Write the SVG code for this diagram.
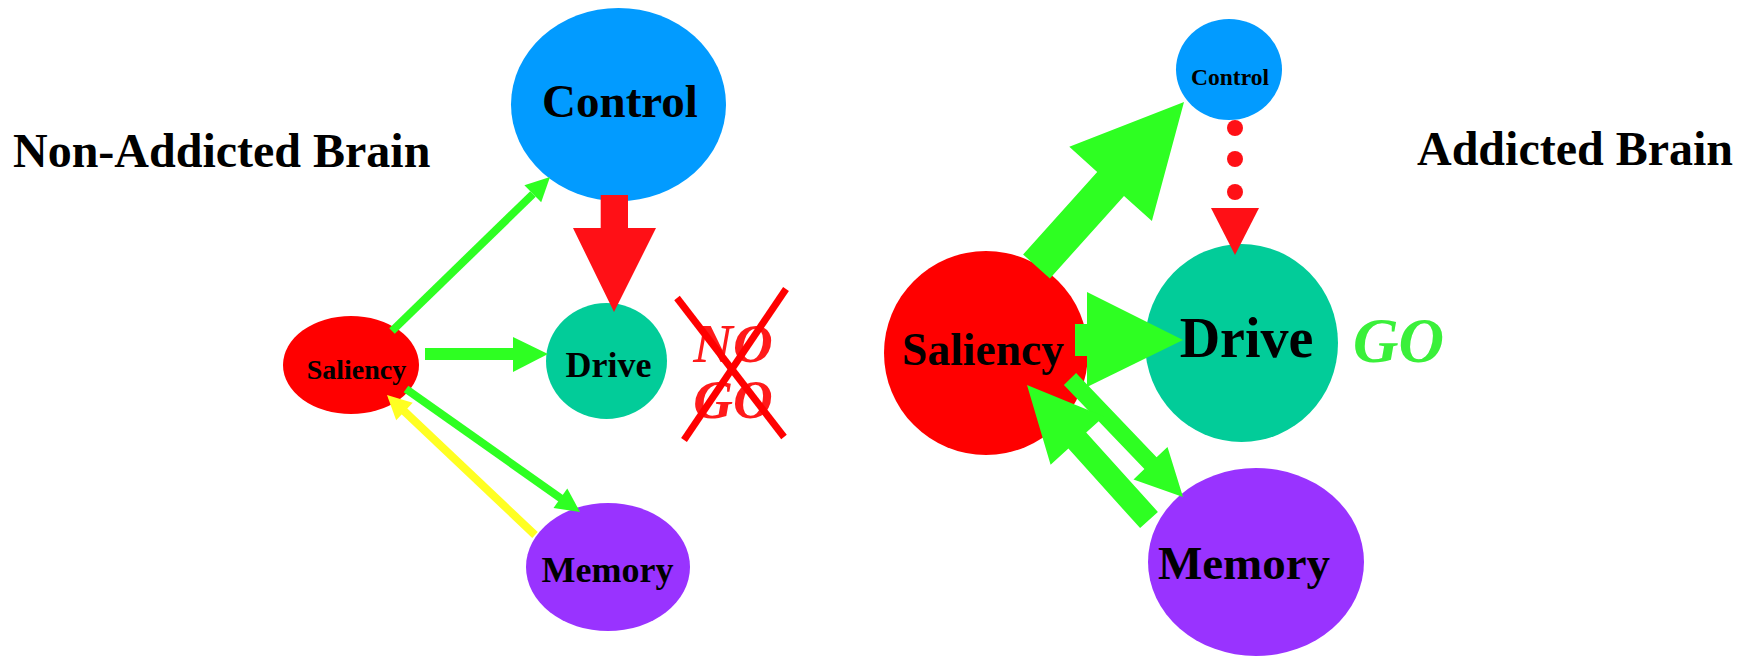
<svg xmlns="http://www.w3.org/2000/svg" width="1750" height="659" viewBox="0 0 1750 659">
<style>
.lbl{font-family:"Liberation Serif","Times New Roman",serif;font-weight:bold;fill:#000;text-anchor:middle}
.title{font-family:"Liberation Serif","Times New Roman",serif;font-weight:bold;font-size:48px;fill:#000}
.ctl{fill:#029BFF}.drv{fill:#02CC99}.sal{fill:#FF0000}.mem{fill:#9933FF}
.g{fill:#2EFF22}.gs{stroke:#2EFF22;fill:none}.r{fill:#FF1016}.y{fill:#FFFF22}.ys{stroke:#FFFF22;fill:none}
</style>
<rect width="1750" height="659" fill="#fff"/>
<text class="title" x="13" y="167">Non-Addicted Brain</text>
<text class="title" x="1417" y="165">Addicted Brain</text>

<g id="L-control"><ellipse class="ctl" cx="618.5" cy="104.5" rx="107.5" ry="96.5"/><text class="lbl" x="620" y="117" font-size="47">Control</text></g>
<g id="L-drive"><ellipse class="drv" cx="606.5" cy="361" rx="60.5" ry="58"/><text class="lbl" x="608.5" y="377" font-size="36">Drive</text></g>
<g id="L-saliency"><ellipse class="sal" cx="351" cy="365" rx="68" ry="49"/><text class="lbl" x="356.5" y="379" font-size="28">Saliency</text></g>
<g id="L-memory"><ellipse class="mem" cx="608" cy="567" rx="82" ry="64"/><text class="lbl" x="607.5" y="582" font-size="36">Memory</text></g>

<g id="R-control"><ellipse class="ctl" cx="1229" cy="69.5" rx="53" ry="50.5"/><text class="lbl" x="1230" y="85" font-size="23.5">Control</text></g>
<g id="R-saliency"><ellipse class="sal" cx="986" cy="353" rx="102" ry="102"/><text class="lbl" x="983" y="365" font-size="45.5">Saliency</text></g>
<g id="R-drive"><ellipse class="drv" cx="1241.5" cy="343" rx="96.5" ry="99"/><text class="lbl" x="1246.5" y="357" font-size="56">Drive</text></g>
<g id="R-memory"><ellipse class="mem" cx="1256" cy="562" rx="108" ry="94"/><text class="lbl" x="1244" y="579" font-size="47">Memory</text></g>

<g id="connectors">
  <!-- left -->
  <line class="gs" stroke-width="8" x1="392" y1="331" x2="533" y2="194"/>
  <polygon class="g" points="541.2,202.3 550,177 524.4,185.2"/>
  <rect class="g" x="425" y="348" width="90" height="12"/>
  <polygon class="g" points="513,337 548,354 513,372"/>
  <line class="gs" stroke-width="8" x1="406" y1="389" x2="561" y2="498.5"/>
  <polygon class="g" points="553.5,508 580,512 567.3,488.4"/>
  <line class="ys" stroke-width="8" x1="535" y1="535" x2="404" y2="411"/>
  <polygon class="y" points="412.7,402.8 387,395 396.2,420.2"/>
  <polygon class="r" points="600.7,195 628,195 628,228 656,228 614,312 573,228 600.7,228"/>
  <!-- right -->
  <polygon class="g" points="1049.9,278.5 1124,195.9 1151.9,221 1184,102 1069.3,146.8 1097.2,171.9 1023.1,254.5"/>
  <circle class="r" cx="1235" cy="128" r="8"/>
  <circle class="r" cx="1235" cy="159" r="8"/>
  <circle class="r" cx="1235" cy="192" r="8"/>
  <polygon class="r" points="1211,208 1259,208 1235,255"/>
  <rect class="g" x="1075" y="324" width="14" height="32"/>
  <polygon class="g" points="1087,292 1183,340 1087,387"/>
  <polygon class="g" points="1063.9,384.9 1144.4,469 1133.5,479.4 1183,497 1167.5,446.9 1156.6,457.2 1076.1,373.1"/>
  <polygon class="g" points="1157.9,511.9 1086.2,432.6 1104,416.5 1027,385 1050.6,464.7 1068.4,448.6 1140.1,528.1"/>
</g>

<g id="nogo">
  <text x="733" y="362" font-family="Liberation Serif, Times New Roman, serif" font-weight="bold" font-style="italic" font-size="55" fill="#FF1A1A" text-anchor="middle">NO</text>
  <text x="733" y="418" font-family="Liberation Serif, Times New Roman, serif" font-weight="bold" font-style="italic" font-size="55" fill="#FF1A1A" text-anchor="middle">GO</text>
  <line x1="677" y1="298" x2="784" y2="437" stroke="#FF0000" stroke-width="7"/>
  <line x1="786" y1="289" x2="684" y2="440" stroke="#FF0000" stroke-width="7"/>
</g>
<text x="1353" y="362" font-family="Liberation Serif, Times New Roman, serif" font-weight="bold" font-style="italic" font-size="63" fill="#3AF03A">GO</text>
</svg>
